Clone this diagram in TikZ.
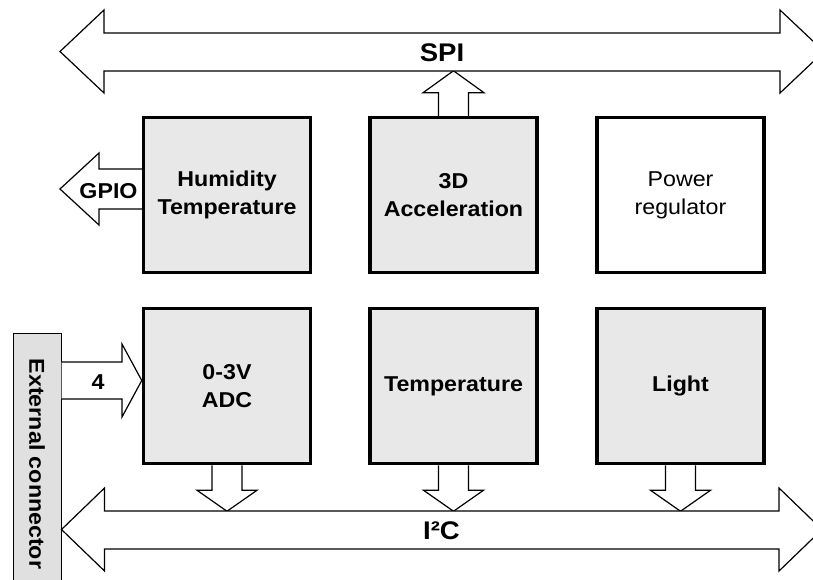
\documentclass[tikz,border=0pt]{standalone}
\usepackage{fontspec}
\setmainfont{Liberation Sans}[FakeStretch=1.08]
\usetikzlibrary{calc}
\definecolor{boxgray}{HTML}{E8E8E8}
\definecolor{congray}{HTML}{E0E0E0}
\begin{document}
\begin{tikzpicture}[x=1pt,y=-1pt,
  blk/.style={draw,line width=3.5pt,fill=boxgray,minimum width=167pt,minimum height=155pt,inner sep=0pt,align=center,font=\fontsize{21.5}{28}\selectfont\bfseries},
  plainblk/.style={blk,fill=white,font=\fontsize{21.5}{28}\selectfont},
  arr/.style={draw,line width=1.2pt,fill=white,line join=miter},
  buslabel/.style={font=\fontsize{25.5}{30}\selectfont\bfseries,anchor=base,inner sep=0pt},
  smalllabel/.style={font=\fontsize{21.5}{28}\selectfont\bfseries,anchor=base,inner sep=0pt}]
\useasboundingbox (0,0) rectangle (813,579);
\clip (0,0) rectangle (813,579);

% blocks
\node[blk] (hum) at (227,195) {Humidity\\Temperature};
\node[blk] (acc) at (453.5,195) {3D\\Acceleration};
\node[plainblk] (pwr) at (680.5,195) {Power\\regulator};
\node[blk] (adc) at (227,386) {0-3V\\ADC};
\node[blk] (tmp) at (453.5,386) {Temperature};
\node[blk] (lgt) at (680.5,386) {Light};

% external connector
\node[draw,line width=1pt,fill=congray,minimum width=48pt,minimum height=262pt,inner sep=0pt,
  font=\fontsize{21.5}{28}\selectfont\bfseries] (ext) at (37,464) {\rotatebox{-90}{External connector}};

% SPI bus
\coordinate (spiL) at (60,51.5);
\coordinate (spiR) at (824,51.5);
\draw[arr] (acc.north) ++(-15,0) -- ++(0,-23) -- ++(-15.5,0) -- ($(acc.north)+(0,-45)$)
  -- ($(acc.north)+(30.5,-23)$) -- ++(-15.5,0) -- ($(acc.north)+(15,0)$);
\draw[arr] (spiL) -- ++(44,-41.5) -- ++(0,23) -- ($(spiR)+(-44,-18.5)$) -- ++(0,-23) -- (spiR)
  -- ++(-44,41.5) -- ++(0,-22) -- ($(spiL)+(44,19.5)$) -- ++(0,22) -- cycle;
\node[buslabel] (spi) at (442,61.5) {SPI};

% GPIO arrow
\coordinate (gpioT) at (60,189);
\draw[arr] (hum.west |- 0,169) -- (99,169) -- (99,153) -- (gpioT) -- (99,225) -- (99,209) -- (hum.west |- 0,209);
\node[smalllabel] (gpio) at (108.5,198) {GPIO};

% input arrow "4"
\coordinate (inT) at (adc.west |- 0,380.5);
\draw[arr] (ext.east |- 0,362) -- (122,362) -- (122,344) -- (inT) -- (122,417) -- (122,399) -- (ext.east |- 0,399);
\node[smalllabel] (four) at (98,389) {4};

% I2C bus
\draw[arr] (adc.south) ++(-15,0) -- ++(0,25) -- ++(-15,0) -- ($(adc.south)+(0,46)$) -- ($(adc.south)+(30,25)$) -- ++(-15,0) -- ($(adc.south)+(15,0)$);
\draw[arr] (tmp.south) ++(-15,0) -- ++(0,25) -- ++(-15,0) -- ($(tmp.south)+(0,46)$) -- ($(tmp.south)+(30,25)$) -- ++(-15,0) -- ($(tmp.south)+(15,0)$);
\draw[arr] (lgt.south) ++(-15,0) -- ++(0,25) -- ++(-15,0) -- ($(lgt.south)+(0,46)$) -- ($(lgt.south)+(30,25)$) -- ++(-15,0) -- ($(lgt.south)+(15,0)$);
\coordinate (i2cL) at (ext.east |- 0,529.5);
\coordinate (i2cR) at (822,529.5);
\draw[arr] (i2cL) -- ++(43,-41.5) -- ++(0,23) -- ($(i2cR)+(-43,-18.5)$) -- ++(0,-23) -- (i2cR)
  -- ++(-43,41.5) -- ++(0,-22) -- ($(i2cL)+(43,19.5)$) -- ++(0,22) -- cycle;
\node[buslabel] (i2c) at (441.5,539) {I²C};
\end{tikzpicture}
\end{document}
